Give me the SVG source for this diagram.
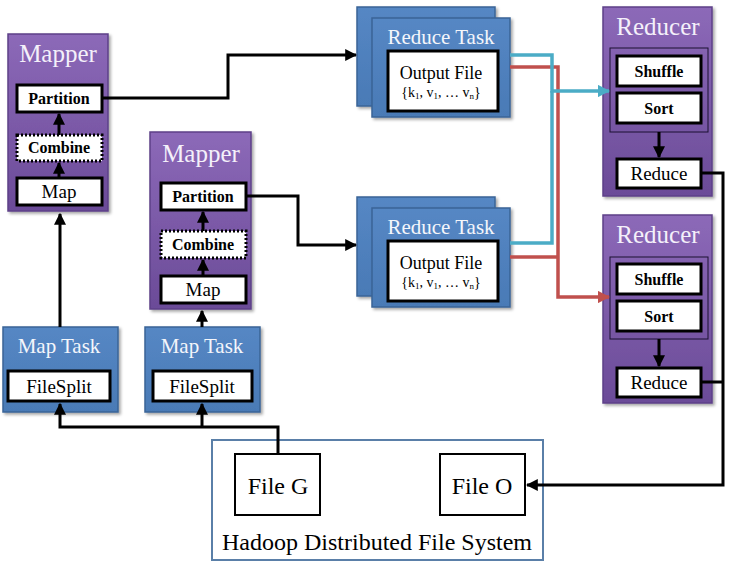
<svg xmlns="http://www.w3.org/2000/svg" width="732" height="562" viewBox="0 0 732 562" font-family="'Liberation Serif', 'DejaVu Serif', serif">
<defs>
<linearGradient id="gp" x1="0" y1="0" x2="0" y2="1">
<stop offset="0" stop-color="#8c69b8"/>
<stop offset="1" stop-color="#6b4b98"/>
</linearGradient>
<linearGradient id="gb" x1="0" y1="0" x2="0" y2="1">
<stop offset="0" stop-color="#5587c4"/>
<stop offset="1" stop-color="#4a7ab6"/>
</linearGradient>
<filter id="sh" x="-10%" y="-10%" width="130%" height="130%">
<feDropShadow dx="2" dy="2" stdDeviation="1.5" flood-color="#000" flood-opacity="0.35"/>
</filter>
<marker id="ab" viewBox="0 0 10 10" refX="9" refY="5" markerWidth="4" markerHeight="4" orient="auto" markerUnits="strokeWidth">
<path d="M0,0 L10,5 L0,10 z" fill="#000"/>
</marker>
<marker id="ac" viewBox="0 0 10 10" refX="9" refY="5" markerWidth="3.5" markerHeight="3.5" orient="auto" markerUnits="strokeWidth">
<path d="M0,0 L10,5 L0,10 z" fill="#4bacc6"/>
</marker>
<marker id="ar" viewBox="0 0 10 10" refX="9" refY="5" markerWidth="3.5" markerHeight="3.5" orient="auto" markerUnits="strokeWidth">
<path d="M0,0 L10,5 L0,10 z" fill="#c0504d"/>
</marker>
<style>
.pur{fill:url(#gp);stroke:#5d4088;stroke-width:1.5;filter:url(#sh)}
.blu{fill:url(#gb);stroke:#3a6496;stroke-width:1.5;filter:url(#sh)}
.wb{fill:#fff;stroke:#000;stroke-width:3}
.wd{fill:#fff;stroke:#000;stroke-width:3;stroke-dasharray:2 2}
.ib{fill:none;stroke:#1a1030;stroke-width:1}
text{font-family:'Liberation Serif','DejaVu Serif',serif}
.t{text-anchor:middle}
.tl{fill:#f4f0fa;font-size:25px}
.tb{fill:#f4f6fb;font-size:21px}
.lb{fill:#000;font-size:16px;font-weight:bold}
.lr{fill:#000;font-size:19px}
.of{fill:#000;font-size:18px}
.kv{fill:#000;font-size:14px}
.big{fill:#000;font-size:24px}
.k{stroke:#000;stroke-width:3;fill:none;stroke-linejoin:miter}
.c{stroke:#4bacc6;stroke-width:3.5;fill:none}
.r{stroke:#c0504d;stroke-width:3.5;fill:none}
</style>
</defs>
<rect width="732" height="562" fill="#fff"/>

<g id="mapper1">
<rect class="pur" x="8" y="34" width="100" height="177"/>
<text class="t tl" x="58" y="62">Mapper</text>
<rect class="wb" x="17" y="85" width="85" height="27"/>
<text class="t lb" x="59" y="104">Partition</text>
<rect class="wd" x="17" y="135" width="85" height="26"/>
<text class="t lb" x="59" y="153">Combine</text>
<rect class="wb" x="17" y="178" width="85" height="27"/>
<text class="t lr" x="59" y="198">Map</text>
</g>

<g id="mapper2">
<rect class="pur" x="150" y="132" width="101" height="177"/>
<text class="t tl" x="201" y="162">Mapper</text>
<rect class="wb" x="161" y="183" width="85" height="27"/>
<text class="t lb" x="203" y="202">Partition</text>
<rect class="wd" x="161" y="231" width="85" height="27"/>
<text class="t lb" x="203" y="250">Combine</text>
<rect class="wb" x="161" y="276" width="85" height="27"/>
<text class="t lr" x="203" y="296">Map</text>
</g>

<g id="maptask1">
<rect class="blu" x="3" y="327" width="115" height="85"/>
<text class="t tb" x="59" y="353">Map Task</text>
<rect class="wb" x="8" y="371" width="102" height="30"/>
<text class="t lr" x="59" y="393">FileSplit</text>
</g>

<g id="maptask2">
<rect class="blu" x="145" y="327" width="115" height="85"/>
<text class="t tb" x="202" y="353">Map Task</text>
<rect class="wb" x="153" y="371" width="99" height="30"/>
<text class="t lr" x="202" y="393">FileSplit</text>
</g>

<g id="reducetask1">
<rect class="blu" x="357" y="7" width="138" height="99"/>
<rect class="blu" x="372" y="18" width="138" height="99"/>
<text class="t tb" x="441" y="44">Reduce Task</text>
<rect class="wb" x="388" y="51" width="110" height="60"/>
<text class="t of" x="441" y="79">Output File</text>
<text class="t kv" x="441" y="97">{k<tspan font-size="9" dy="2">1</tspan><tspan dy="-2">, v</tspan><tspan font-size="9" dy="2">1</tspan><tspan dy="-2">, … v</tspan><tspan font-size="9" dy="2">n</tspan><tspan dy="-2">}</tspan></text>
</g>

<g id="reducetask2">
<rect class="blu" x="357" y="197" width="138" height="99"/>
<rect class="blu" x="372" y="208" width="138" height="99"/>
<text class="t tb" x="441" y="234">Reduce Task</text>
<rect class="wb" x="388" y="241" width="110" height="60"/>
<text class="t of" x="441" y="269">Output File</text>
<text class="t kv" x="441" y="287">{k<tspan font-size="9" dy="2">1</tspan><tspan dy="-2">, v</tspan><tspan font-size="9" dy="2">1</tspan><tspan dy="-2">, … v</tspan><tspan font-size="9" dy="2">n</tspan><tspan dy="-2">}</tspan></text>
</g>

<g id="reducer1">
<rect class="pur" x="603" y="7" width="109" height="189"/>
<text class="t tl" x="658" y="35">Reducer</text>
<rect class="ib" x="610" y="48" width="98" height="84"/>
<rect class="wb" x="617" y="56" width="84" height="30"/>
<text class="t lb" x="659" y="77">Shuffle</text>
<rect class="wb" x="617" y="93" width="84" height="30"/>
<text class="t lb" x="659" y="114">Sort</text>
<rect class="wb" x="617" y="159" width="84" height="29"/>
<text class="t lr" x="659" y="180">Reduce</text>
</g>

<g id="reducer2">
<rect class="pur" x="603" y="215" width="109" height="188"/>
<text class="t tl" x="658" y="243">Reducer</text>
<rect class="ib" x="610" y="257" width="98" height="82"/>
<rect class="wb" x="617" y="264" width="84" height="30"/>
<text class="t lb" x="659" y="285">Shuffle</text>
<rect class="wb" x="617" y="301" width="84" height="30"/>
<text class="t lb" x="659" y="322">Sort</text>
<rect class="wb" x="617" y="368" width="84" height="29"/>
<text class="t lr" x="659" y="389">Reduce</text>
</g>

<g id="hdfs">
<rect x="212" y="440" width="331" height="120" fill="#fff" stroke="#5a7fa8" stroke-width="2"/>
<rect x="235" y="454" width="85" height="61" fill="#fff" stroke="#000" stroke-width="2"/>
<text class="t big" x="278" y="494">File G</text>
<rect x="440" y="454" width="85" height="61" fill="#fff" stroke="#000" stroke-width="2"/>
<text class="t big" x="482" y="494">File O</text>
<text class="t big" x="377" y="550">Hadoop Distributed File System</text>
</g>

<g id="connectors">
<path class="k" d="M278,454 V427 H60 V404" marker-end="url(#ab)"/>
<path class="k" d="M202,427 V404" marker-end="url(#ab)"/>
<path class="k" d="M60,327 V214" marker-end="url(#ab)"/>
<path class="k" d="M202,327 V311" marker-end="url(#ab)"/>
<path class="k" d="M59,178 V163" marker-end="url(#ab)"/>
<path class="k" d="M59,135 V114" marker-end="url(#ab)"/>
<path class="k" d="M203,276 V260" marker-end="url(#ab)"/>
<path class="k" d="M203,231 V212" marker-end="url(#ab)"/>
<path class="k" d="M102,98 H228 V55 H356" marker-end="url(#ab)"/>
<path class="k" d="M246,196 H298 V245 H356" marker-end="url(#ab)"/>
<path class="r" d="M510,67 H558 V297 H609" marker-end="url(#ar)"/>
<path class="r" d="M510,257 H558"/>
<path class="c" d="M510,55 H552 V91 H609" marker-end="url(#ac)"/>
<path class="c" d="M510,243 H552 V91"/>
<path class="k" d="M659,132 V157" marker-end="url(#ab)"/>
<path class="k" d="M659,339 V366" marker-end="url(#ab)"/>
<path class="k" d="M701,173 H723 V485 H527" marker-end="url(#ab)"/>
<path class="k" d="M701,382 H723"/>
</g>
</svg>
